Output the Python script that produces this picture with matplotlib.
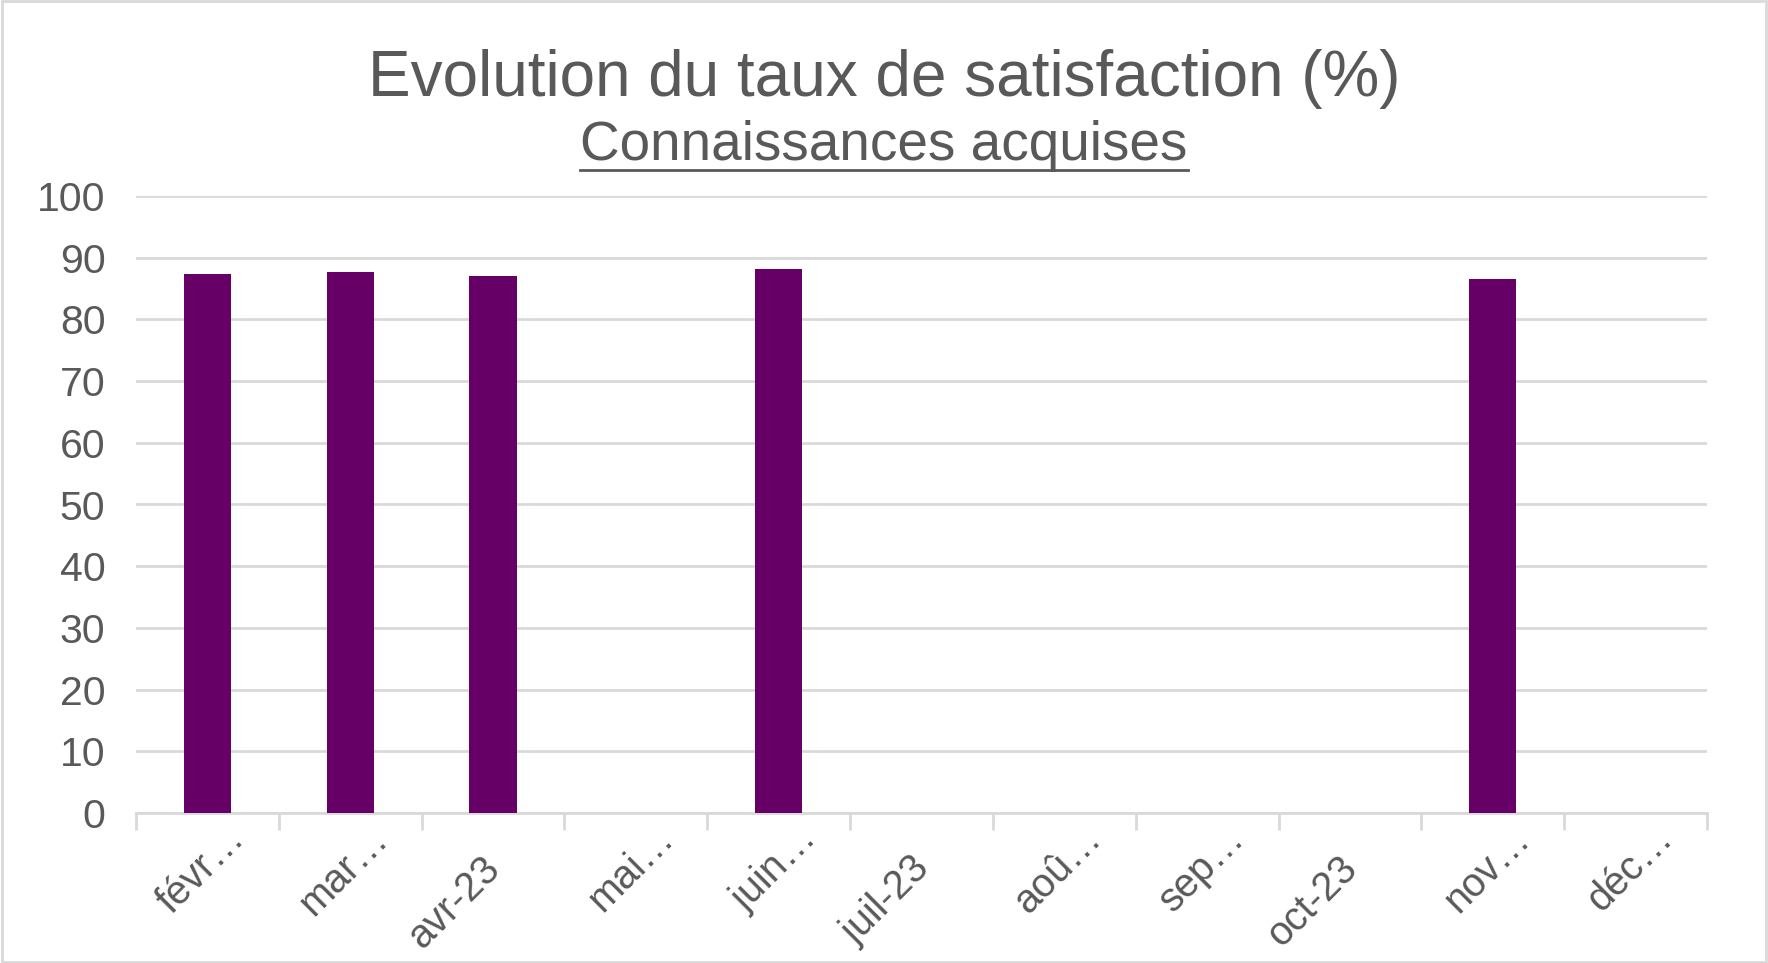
import matplotlib
matplotlib.use("Agg")
import matplotlib.pyplot as plt
import matplotlib.transforms as mtransforms
from matplotlib.lines import Line2D
import numpy as np

plt.rcParams['font.family'] = ['Liberation Sans', 'DejaVu Sans']

# donnees
mois = ["févr…", "mar…", "avr-23", "mai…", "juin…", "juil-23",
        "aoû…", "sep…", "oct-23", "nov…", "déc…"]
taux = [87.4, 87.7, 87.0, np.nan, 88.2, np.nan,
        np.nan, np.nan, np.nan, 86.5, np.nan]

gris = "#595959"
violet = "#660066"

fig = plt.figure(figsize=(17.68, 9.63), dpi=100)
ax = fig.add_axes([136/1768, 1 - 813/963, (1707-136)/1768, (813-196)/963])

x = np.arange(len(mois))
ax.bar(x, np.nan_to_num(taux), width=0.33, color=violet, zorder=3)

ax.set_xlim(-0.5, len(mois) - 0.5)
ax.set_ylim(0, 100)
ax.set_yticks(range(0, 101, 10))
ax.yaxis.grid(True, color="#d9d9d9", linewidth=2, zorder=0)
ax.tick_params(axis='y', length=0, labelsize=29.5, labelcolor=gris, pad=22)

ax.set_xticks(x)
ax.set_xticks(np.arange(-0.5, len(mois), 1), minor=True)
ax.tick_params(axis='x', which='major', length=0, labelsize=28.5,
               labelcolor=gris, pad=26)
ax.tick_params(axis='x', which='minor', length=12, width=2, color="#d9d9d9")
ax.set_xticklabels(mois, rotation=45, ha='right', rotation_mode='anchor')
# les libelles tronques (Excel) sont decales le long de la diagonale
for lab in ax.get_xticklabels():
    if lab.get_text().endswith("…"):
        dx, dy = 0.18, 0.30
    else:
        dx, dy = -0.12, 0.0
    off = mtransforms.ScaledTranslation(dx, dy, fig.dpi_scale_trans)
    lab.set_transform(lab.get_transform() + off)

for s in ['top', 'right', 'left']:
    ax.spines[s].set_visible(False)
ax.spines['bottom'].set_color("#d9d9d9")
ax.spines['bottom'].set_linewidth(2)

fig.text(0.5, 1 - 79/963, "Evolution du taux de satisfaction (%)",
         ha='center', va='center', fontsize=46, color=gris)
sub = fig.text(0.5, 1 - 146/963, "Connaissances acquises",
               ha='center', va='center', fontsize=39.5, color=gris)

# soulignement du sous-titre
fig.canvas.draw()
bb = sub.get_window_extent().transformed(fig.transFigure.inverted())
fig.add_artist(Line2D([bb.x0, bb.x1], [bb.y0 + 0.002, bb.y0 + 0.002],
                      transform=fig.transFigure, color=gris, linewidth=2))

# cadre
fig.add_artist(plt.Rectangle((0.001, 0.001), 0.998, 0.998, transform=fig.transFigure,
                             fill=False, edgecolor="#d9d9d9", linewidth=2))

fig.savefig("out.png", dpi=100)
